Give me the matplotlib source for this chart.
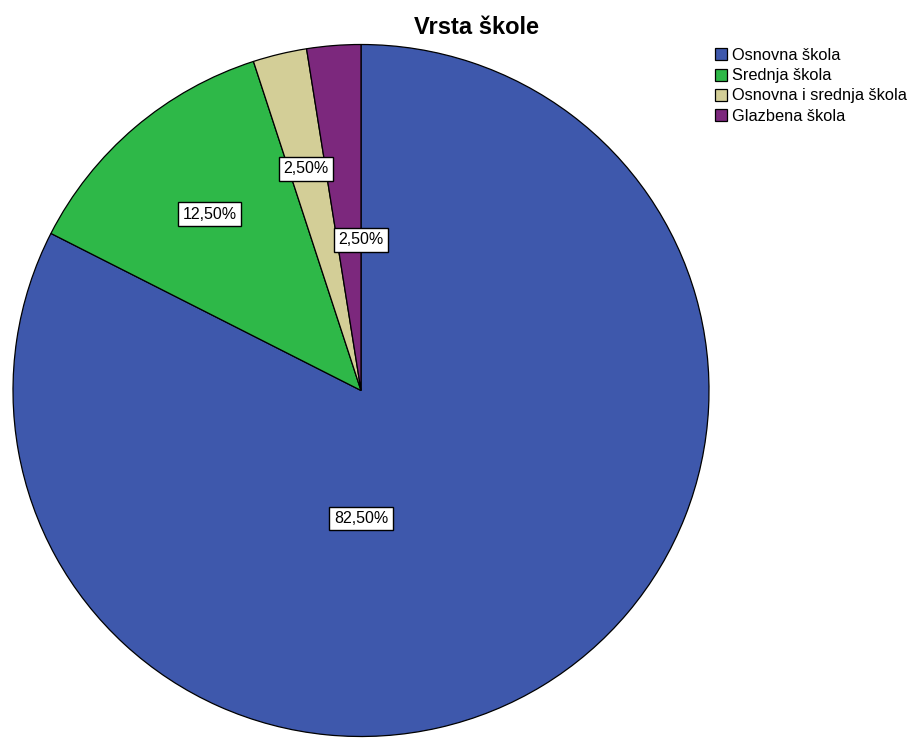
import matplotlib
matplotlib.use("Agg")
import matplotlib.pyplot as plt
import numpy as np

categories = ["Osnovna škola", "Srednja škola", "Osnovna i srednja škola", "Glazbena škola"]
values = [82.5, 12.5, 2.5, 2.5]
labels = ["82,50%", "12,50%", "2,50%", "2,50%"]
colors = ["#3E58AC", "#2EB848", "#D3CE97", "#7C287D"]

plt.rcParams['font.family'] = ['Liberation Sans', 'DejaVu Sans']

fig = plt.figure(figsize=(9.14, 7.38), dpi=100)
W, H = 914, 738
cx, cy, RX, RY = 361, 390.5, 348, 346
ax = fig.add_axes([(cx - RX) / W, (H - cy - RY) / H, 2 * RX / W, 2 * RY / H])
wedges, _ = ax.pie(values, colors=colors, startangle=90, counterclock=False,
                   radius=1, wedgeprops=dict(edgecolor="black", linewidth=0.9))
for w in wedges:
    w.set_clip_on(False)
ax.set_xlim(-1, 1)
ax.set_ylim(-1, 1)
ax.set_aspect("auto")
ax.axis("off")

# label placement (radius fraction, angle deg) approximating the reference
label_pos = [(0.37, -90.0), (0.67, 130.5), (0.66, 103.8), (0.435, 90.0)]
for lab, (r, a) in zip(labels, label_pos):
    ax.text(r * np.cos(np.radians(a)), r * np.sin(np.radians(a)), lab,
            ha="center", va="center", fontsize=11.5,
            bbox=dict(boxstyle="square,pad=0.28", facecolor="white", edgecolor="black", linewidth=1.0))

fig.text(476 / W, 1 - 27 / H, "Vrsta škole", ha="center", va="center",
         fontsize=17, fontweight="bold")

handles = [plt.Rectangle((0, 0), 1, 1, facecolor=c, edgecolor="black", linewidth=0.9) for c in colors]
fig.legend(handles, categories, loc="upper left", bbox_to_anchor=(715 / W, 1 - 48 / H),
           frameon=False, fontsize=11.8, handlelength=0.75, handleheight=0.75,
           handletextpad=0.3, labelspacing=0.32, borderaxespad=0, borderpad=0)

fig.savefig("out.png", dpi=100)
